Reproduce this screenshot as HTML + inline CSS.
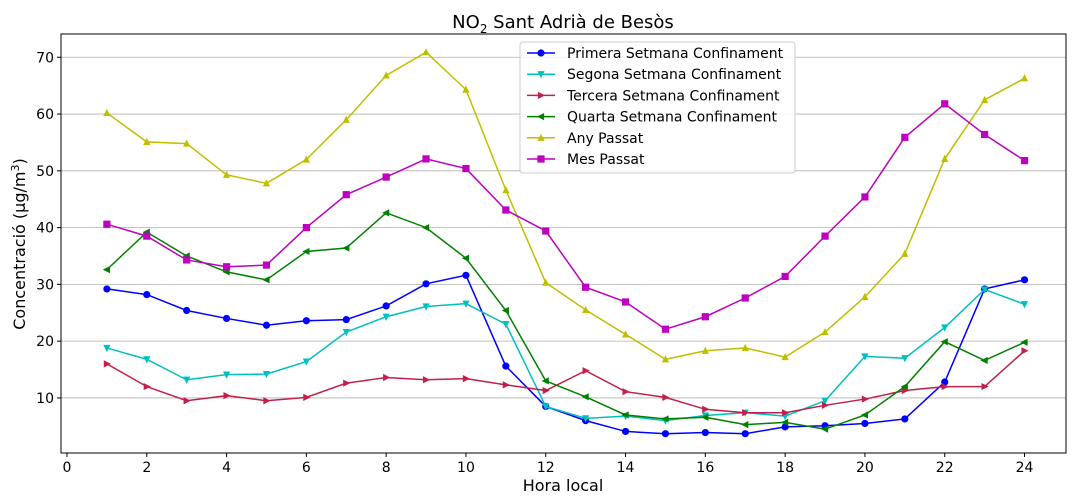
<!DOCTYPE html>
<html><head><meta charset="utf-8">
<style>
html,body{margin:0;padding:0;background:#fff;}
svg{display:block;font-family:"DejaVu Sans","Liberation Sans",sans-serif;}
</style></head>
<body>
<svg id="chart" width="1080" height="504" xmlns="http://www.w3.org/2000/svg">
<rect width="1080" height="504" fill="#fff"/>
<text x="563" y="28" font-size="18" text-anchor="middle">NO<tspan font-size="12" dy="5">2</tspan><tspan dy="-5"> Sant Adrià de Besòs</tspan></text>
<g id="grid"></g>
<g id="series"></g>
<rect x="61" y="34" width="1005" height="419" fill="none" stroke="#000" stroke-width="1"/>
<g id="axes" font-size="14"></g>
<text x="563" y="491" font-size="16" text-anchor="middle">Hora local</text>
<text transform="translate(25,244) rotate(-90)" font-size="16" text-anchor="middle">Concentració (μg/m<tspan font-size="11" dy="-6">3</tspan><tspan dy="6">)</tspan></text>
<g id="legend"></g>
</svg>
<script>
const hours = [1,2,3,4,5,6,7,8,9,10,11,12,13,14,15,16,17,18,19,20,21,22,23,24];
const xTicks = [0,2,4,6,8,10,12,14,16,18,20,22,24];
const yTicks = [10,20,30,40,50,60,70];
const seriesNames = ["Primera Setmana Confinament","Segona Setmana Confinament","Tercera Setmana Confinament","Quarta Setmana Confinament","Any Passat","Mes Passat"];
const primera = [29.2,28.2,25.4,24.0,22.8,23.6,23.8,26.2,30.1,31.6,15.6,8.5,6.0,4.1,3.7,3.9,3.7,4.9,5.1,5.5,6.3,12.8,29.2,30.8];
const segona = [18.8,16.8,13.2,14.1,14.2,16.4,21.6,24.3,26.1,26.6,23.0,8.5,6.4,6.8,6.0,6.9,7.4,6.8,9.5,17.3,17.0,22.4,29.1,26.5];
const tercera = [16.0,12.0,9.5,10.4,9.5,10.1,12.6,13.6,13.2,13.4,12.3,11.3,14.8,11.1,10.1,8.0,7.4,7.4,8.7,9.8,11.3,12.0,12.0,18.3];
const quarta = [32.6,39.2,35.0,32.2,30.8,35.8,36.4,42.6,40.0,34.6,25.4,13.0,10.2,7.0,6.3,6.6,5.3,5.7,4.5,7.0,12.0,19.9,16.6,19.8];
const anyPassat = [60.2,55.1,54.8,49.3,47.8,52.0,59.0,66.8,70.9,64.3,46.6,30.3,25.5,21.2,16.8,18.3,18.8,17.2,21.6,27.8,35.4,52.1,62.5,66.3];
const mesPassat = [40.6,38.5,34.3,33.1,33.4,40.0,45.8,48.9,52.1,50.4,43.1,39.4,29.5,26.9,22.1,24.3,27.6,31.4,38.5,45.4,55.9,61.8,56.4,51.8];
const allSeries = [primera,segona,tercera,quarta,anyPassat,mesPassat];
const colors = ["#0000ff","#00bfbf","#c2204a","#008000","#bfbf00","#bf00bf"];
const markers = ["circle","down","right","left","up","square"];
const slugs = ["primera","segona","tercera","quarta","any-passat","mes-passat"];

const NS="http://www.w3.org/2000/svg";
const X0=61,X1=1066,Y0=34,Y1=453,xmin=-0.15,xmax=25.04,ymin=0.3,ymax=74.1;
const sx=v=>X0+(v-xmin)/(xmax-xmin)*(X1-X0);
const sy=v=>Y1-(v-ymin)/(ymax-ymin)*(Y1-Y0);
function mk(tag,attrs,parent){const e=document.createElementNS(NS,tag);for(const k in attrs)e.setAttribute(k,attrs[k]);parent.appendChild(e);return e;}
const grid=document.getElementById('grid'),axes=document.getElementById('axes'),sg=document.getElementById('series'),lg=document.getElementById('legend');
yTicks.forEach(t=>{
  const l=mk('line',{x1:X0,x2:X1,y1:sy(t),y2:sy(t),stroke:'#b0b0b0','stroke-width':0.8},grid);
  
  
  mk('line',{x1:X0-4,x2:X0,y1:sy(t),y2:sy(t),stroke:'#000'},axes);
  const tx=mk('text',{x:X0-7,y:sy(t)+5,'text-anchor':'end'},axes);tx.textContent=t;
  
  
});
xTicks.forEach(t=>{
  mk('line',{x1:sx(t),x2:sx(t),y1:Y1,y2:Y1+4,stroke:'#000'},axes);
  const tx=mk('text',{x:sx(t),y:Y1+19,'text-anchor':'middle'},axes);tx.textContent=t;
  
  
});
function marker(type,x,y,c,parent){
  const r=3.6;let e;
  if(type==='circle')e=mk('circle',{cx:x,cy:y,r:r,fill:c},parent);
  else if(type==='square')e=mk('rect',{x:x-r,y:y-r,width:2*r,height:2*r,fill:c},parent);
  else{let p;
    if(type==='up')p=[[x,y-r-0.5],[x-r,y+r-0.5],[x+r,y+r-0.5]];
    if(type==='down')p=[[x,y+r+0.5],[x-r,y-r+0.5],[x+r,y-r+0.5]];
    if(type==='right')p=[[x+r+0.5,y],[x-r+0.5,y-r],[x-r+0.5,y+r]];
    if(type==='left')p=[[x-r-0.5,y],[x+r-0.5,y-r],[x+r-0.5,y+r]];
    e=mk('polygon',{points:p.map(q=>q.join(',')).join(' '),fill:c},parent);}
  return e;
}
allSeries.forEach((vals,i)=>{
  const g=mk('g',{},sg);
  
  
  const pl=mk('polyline',{points:vals.map((v,j)=>sx(hours[j])+','+sy(v)).join(' '),fill:'none',stroke:colors[i],'stroke-width':1.5},g);
  
  
  vals.forEach((v,j)=>{const m=marker(markers[i],sx(hours[j]),sy(v),colors[i],g);
    
    });
});
const box=mk('rect',{x:520,y:42,width:275,height:131,rx:3,fill:'#fff','fill-opacity':0.85,stroke:'#ccc'},lg);


seriesNames.forEach((n,i)=>{
  const y=53+i*21.2;
  const g=mk('g',{},lg);
  
  
  mk('line',{x1:527,x2:555,y1:y,y2:y,stroke:colors[i],'stroke-width':1.5},g);
  marker(markers[i],541,y,colors[i],g);
  const t=mk('text',{x:567,y:y+5,'font-size':14},g);t.textContent=n;
});
</script>
</body></html>
